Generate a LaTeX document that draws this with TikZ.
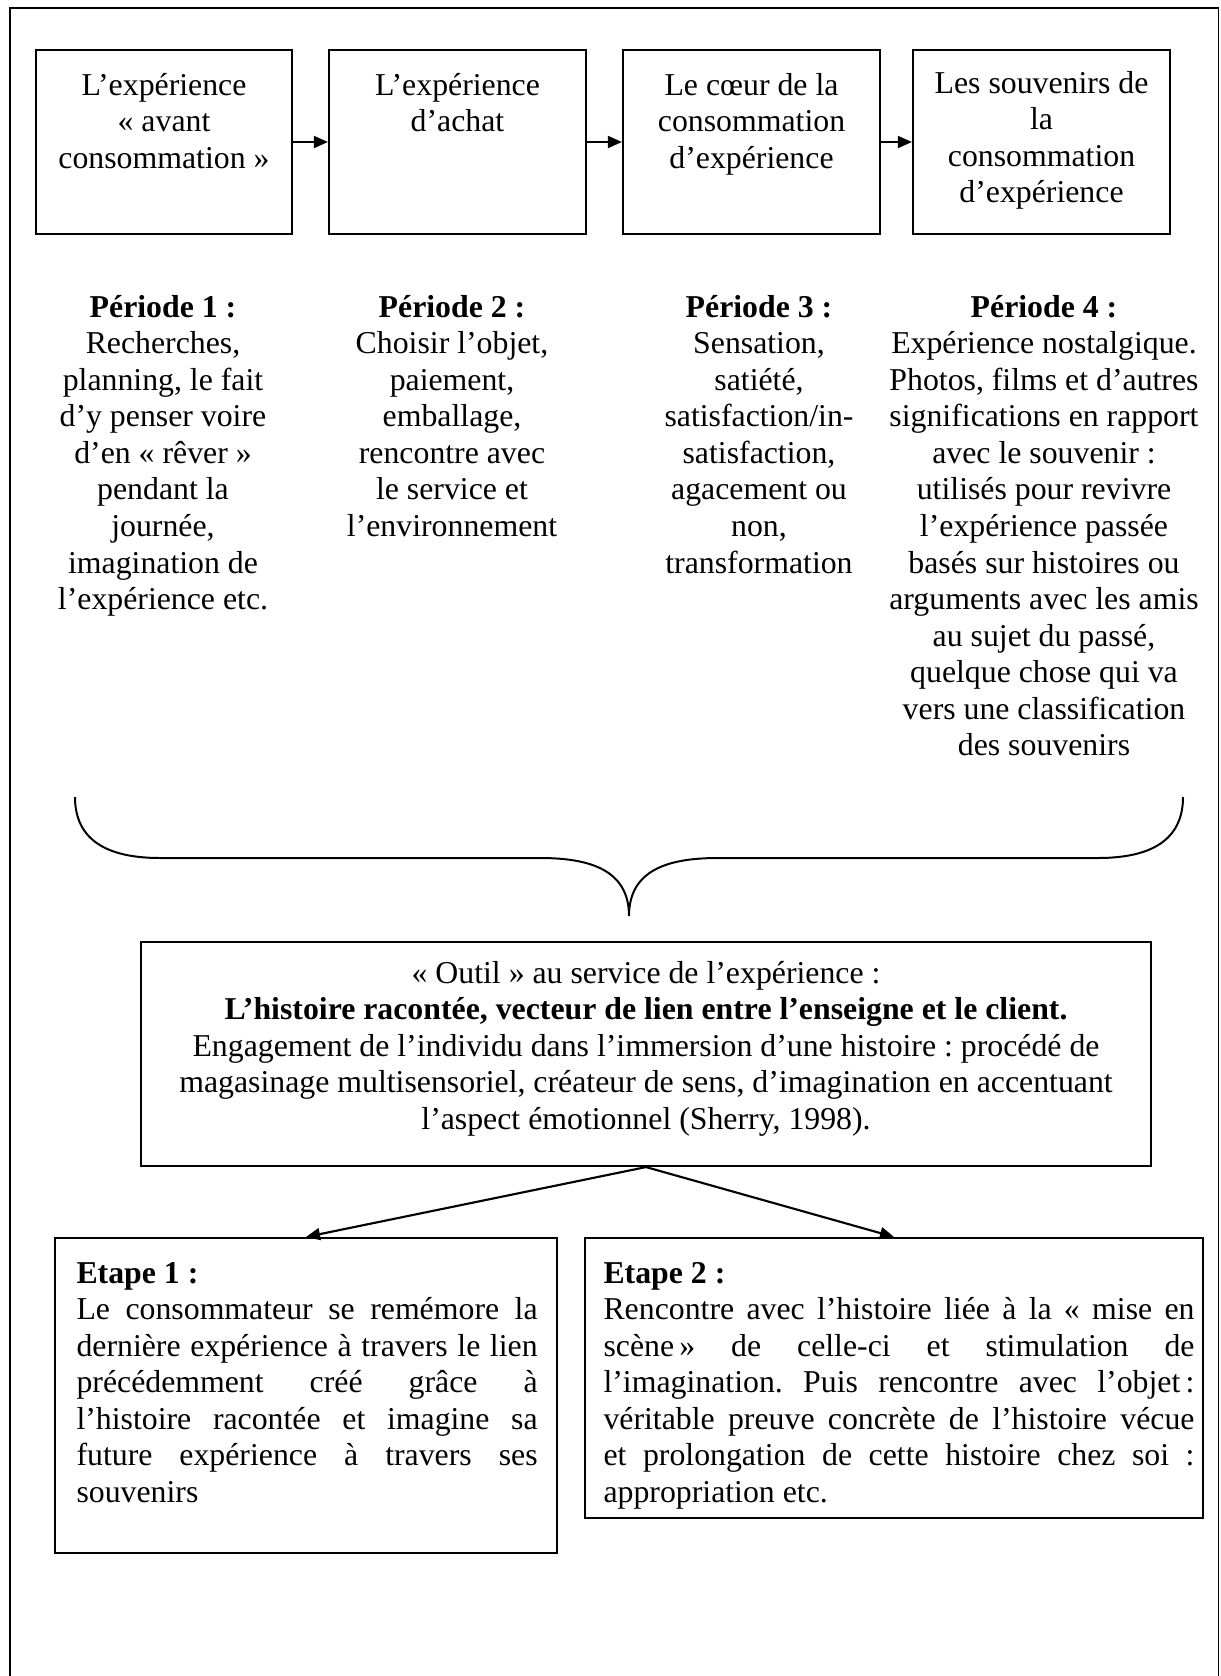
\documentclass[tikz,border=0pt]{standalone}
\usepackage{fontspec}
\setmainfont{Liberation Serif}
\usetikzlibrary{arrows.meta,fit}
\frenchspacing
\newcommand{\fsz}{\fontsize{12pt}{13.8pt}\selectfont}
\newcommand{\jlA}[1]{\hbox to 174pt{\spaceskip=0pt\xspaceskip=0pt #1}}
\newcommand{\jlB}[1]{\hbox to 223pt{\spaceskip=0pt\xspaceskip=0pt #1}}
\tikzset{
  boxnode/.style={draw, line width=0.8pt, inner sep=0pt},
  txt/.style={font=\fsz, inner sep=0pt, align=center, anchor=north},
  jtxt/.style={font=\fsz, inner sep=0pt, align=justify, anchor=north west},
  arr/.style={line width=0.8pt, -{Triangle[length=5.3pt,width=4.5pt]}},
  framel/.style={line width=0.7pt},
  bracel/.style={line width=0.75pt}
}
\begin{document}
\begin{tikzpicture}[x=0.37736pt,y=-0.37736pt]
\useasboundingbox (0,0) rectangle (1220,1676);
% outer frame
\draw[framel] (10,1676) -- (10,8) -- (1218.5,8) -- (1218.5,1676);

% top boxes
\node[boxnode, fit={(36,50) (292,234)}] (b1) {};
\node[boxnode, fit={(329,50) (586,234)}] (b2) {};
\node[boxnode, fit={(623,50) (880,234)}] (b3) {};
\node[boxnode, fit={(913,50) (1170,234)}] (b4) {};
\node[txt] (t1) at (164,69) {\strut L’expérience\\«~avant\\consommation~»};
\node[txt] (t2) at (457.5,69) {\strut L’expérience\\d’achat};
\node[txt] (t3) at (751.5,69) {\strut Le cœur de la\\consommation\\d’expérience};
\node[txt] (t4) at (1041.5,67) {\strut Les souvenirs de\\la\\consommation\\d’expérience};
\draw[arr] (b1.east) -- (b2.west);
\draw[arr] (b2.east) -- (b3.west);
\draw[arr] (b3.east) -- (b4.west);

% periods
\node[txt] (p1) at (163,291) {\strut\textbf{Période 1 :}\\Recherches,\\planning, le fait\\d’y penser voire\\d’en «~rêver~»\\pendant la\\journée,\\imagination de\\l’expérience etc.};
\node[txt] (p2) at (452,291) {\strut\textbf{Période 2 :}\\Choisir l’objet,\\paiement,\\emballage,\\rencontre avec\\le service et\\l’environnement};
\node[txt] (p3) at (759,291) {\strut\textbf{Période 3 :}\\Sensation,\\satiété,\\satisfaction/in-\\satisfaction,\\agacement ou\\non,\\transformation};
\node[txt] (p4) at (1044,291) {\strut\textbf{Période 4 :}\\Expérience nostalgique.\\Photos, films et d’autres\\significations en rapport\\avec le souvenir :\\utilisés pour revivre\\l’expérience passée\\basés sur histoires ou\\arguments avec les amis\\au sujet du passé,\\quelque chose qui va\\vers une classification\\des souvenirs};

% brace
\draw[bracel] (75,797) .. controls (75,835) and (100,858) .. (160,858)
  -- (540,858) .. controls (590,858) and (629,870) .. (629,916)
  .. controls (629,870) and (668,858) .. (718,858)
  -- (1098,858) .. controls (1158,858) and (1183,835) .. (1183,797);

% main box
\node[boxnode, fit={(141,942) (1151,1166)}] (m) {};
\node[txt] (mt) at (646,957) {\strut «~Outil~» au service de l’expérience :\\\textbf{L’histoire racontée, vecteur de lien entre l’enseigne et le client.}\\Engagement de l’individu dans l’immersion d’une histoire : procédé de\\magasinage multisensoriel, créateur de sens, d’imagination en accentuant\\l’aspect émotionnel (Sherry, 1998).};

% bottom boxes
\node[boxnode, fit={(55,1238) (557,1553)}] (bl) {};
\node[boxnode, fit={(585,1238) (1203,1518)}] (br) {};
\node[jtxt, text width=174pt] (blt) at (76,1257) {\strut\textbf{Etape 1 :}\\
\jlA{Le consommateur se remémore la}\\
\jlA{dernière expérience à travers le lien}\\
\jlA{précédemment créé grâce à}\\
\jlA{l’histoire racontée et imagine sa}\\
\jlA{future expérience à travers ses}\\
souvenirs};
\node[jtxt, text width=223pt] (brt) at (603,1257) {\strut\textbf{Etape 2 :}\\
\jlB{Rencontre avec l’histoire liée à la «~mise en}\\
\jlB{scène\,» de celle-ci et stimulation de}\\
\jlB{l’imagination. Puis rencontre avec l’objet\,:}\\
\jlB{véritable preuve concrète de l’histoire vécue}\\
\jlB{et prolongation de cette histoire chez soi :}\\
appropriation etc.};
\draw[arr] (m.south) -- (bl.north);
\draw[arr] (m.south) -- (br.north);
\end{tikzpicture}
\end{document}
